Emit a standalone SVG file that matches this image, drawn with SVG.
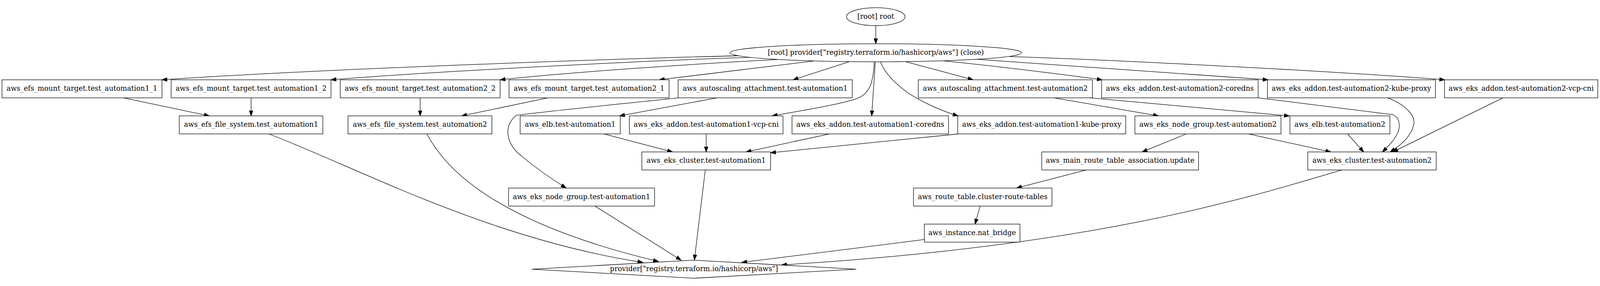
<svg xmlns="http://www.w3.org/2000/svg" width="4265" height="731" viewBox="0 0 4265 731">
<style>
svg:root { width: 100vw; height: 100vh; }
.n rect, .n ellipse, .n polygon { fill: #fff; stroke: #000; stroke-width: 1.33; }
.n text { font-family: "DejaVu Serif", "Liberation Serif", serif; font-size: 18.67px; text-anchor: middle; fill: #000; }
.e path { fill: none; stroke: #000; stroke-width: 1.33; marker-end: url(#arr); }
</style>
<defs>
<marker id="arr" markerUnits="userSpaceOnUse" markerWidth="16" markerHeight="12" refX="13.33" refY="4.67" orient="auto" overflow="visible">
<path d="M0,0 L13.33,4.67 L0,9.33 z" fill="#000" stroke="#000" stroke-width="1.33" stroke-linejoin="miter"/>
</marker>
</defs>
<rect x="0" y="0" width="4265" height="731" fill="#fff"/>
<g id="edges" class="e">
<path d="M2334.5,53.3 L2334.5,101.3"/>
<path d="M1966,133.3 C1700,140 900,166 431.7,197.3"/>
<path d="M2003,137.7 C1800,143 1200,172 882.4,197.3"/>
<path d="M2072,143.3 C1900,152 1500,178 1333.1,197.3"/>
<path d="M2168.6,147.3 L1757.5,197.3"/>
<path d="M2263.3,149.3 L2114,197.3"/>
<path d="M2330.4,150 C2328,205 2318,236 2282,248 C2230,265 2120,282 2058.4,293.3"/>
<path d="M2333.2,150 L2323.6,293.3"/>
<path d="M2347,150 C2362,185 2385,205 2420,232 C2460,258 2510,280 2553.8,293.3"/>
<path d="M2414.8,149.3 L2594,197.3"/>
<path d="M2513.6,146.7 C2650,160 2850,185 2938,197.3"/>
<path d="M2603,142.7 C2800,156 3200,185 3380,197.3"/>
<path d="M2692,135.5 C2900,142 3500,170 3851,197.3"/>
<path d="M329.2,245.3 L557.7,293.3"/>
<path d="M669.3,245.3 L669.3,293.3"/>
<path d="M1120,245.3 L1120,293.3"/>
<path d="M1460.5,245.3 L1230.6,293.3"/>
<path d="M1911.7,245.3 L1651.6,293.3"/>
<path d="M1807.6,245.3 C1700,257 1420,285 1376,292 C1340,320 1350,370 1390,400 C1420,425 1460,455 1509,485.3"/>
<path d="M2809.5,245.3 L3087.9,293.3"/>
<path d="M2905,245.3 L3437,293.5"/>
<path d="M3353.7,245.3 L3712,290 C3730,296 3735,320 3725,340 C3715,360 3700,375 3685,389.3"/>
<path d="M3698.8,245.3 C3750,265 3775,295 3768,318 C3762,345 3740,368 3705.7,389.3"/>
<path d="M4006.5,245.3 L3712.6,389.3"/>
<path d="M1610.3,341.3 L1792.8,389.3"/>
<path d="M1882.4,341.3 L1882.4,389.3"/>
<path d="M2211,341.3 L1988.8,389.3"/>
<path d="M2555.6,341.3 L2054.1,391.5"/>
<path d="M3162.2,341.3 L3044.3,389.3"/>
<path d="M3328.2,341.3 L3547.3,389.3"/>
<path d="M3592,341.3 L3635,389.3"/>
<path d="M2895.6,437.3 L2709.8,485.3"/>
<path d="M2612.7,533.3 L2599.1,581.3"/>
<path d="M716.4,341.3 C950,430 1300,620 1713.5,683.3"/>
<path d="M1138,341.3 C1190,440 1330,580 1755,680.7"/>
<path d="M1586,533.3 L1815.6,677.3"/>
<path d="M1880,437.3 L1851,676.7"/>
<path d="M2464,622.4 L1977,683.3"/>
<path d="M3576.5,437.3 C3300,520 2900,640 2083.4,690"/>
</g>
<g id="n_root" class="n"><ellipse cx="2334.5" cy="29.33" rx="78" ry="24"/><text x="2334.5" y="34.6">[root] root</text></g>
<g id="n_provider_close" class="n"><ellipse cx="2334.6" cy="125.33" rx="388.6" ry="24"/><text x="2334.6" y="130.6">[root] provider["registry.terraform.io/hashicorp/aws"] (close)</text></g>
<g id="n_mt1_1" class="n"><rect x="5.33" y="197.33" width="426.4" height="48"/><text x="218.5" y="226.6">aws_efs_mount_target.test_automation1_1</text></g>
<g id="n_mt1_2" class="n"><rect x="456.2" y="197.33" width="426.2" height="48"/><text x="669.3" y="226.6">aws_efs_mount_target.test_automation1_2</text></g>
<g id="n_mt2_2" class="n"><rect x="906.9" y="197.33" width="426.2" height="48"/><text x="1120" y="226.6">aws_efs_mount_target.test_automation2_2</text></g>
<g id="n_mt2_1" class="n"><rect x="1356.9" y="197.33" width="426.6" height="48"/><text x="1570.2" y="226.6">aws_efs_mount_target.test_automation2_1</text></g>
<g id="n_asg1" class="n"><rect x="1807.6" y="197.33" width="464.2" height="48"/><text x="2039.7" y="226.6">aws_autoscaling_attachment.test-automation1</text></g>
<g id="n_asg2" class="n"><rect x="2447.7" y="197.33" width="464.2" height="48"/><text x="2679.8" y="226.6">aws_autoscaling_attachment.test-automation2</text></g>
<g id="n_coredns2" class="n"><rect x="2936.4" y="197.33" width="417.3" height="48"/><text x="3145" y="226.6">aws_eks_addon.test-automation2-coredns</text></g>
<g id="n_kubeproxy2" class="n"><rect x="3378.5" y="197.33" width="447.7" height="48"/><text x="3602.3" y="226.6">aws_eks_addon.test-automation2-kube-proxy</text></g>
<g id="n_vcpcni2" class="n"><rect x="3850.6" y="197.33" width="408.6" height="48"/><text x="4054.9" y="226.6">aws_eks_addon.test-automation2-vcp-cni</text></g>
<g id="n_efs1" class="n"><rect x="477.9" y="293.33" width="382.7" height="48"/><text x="669.3" y="322.6">aws_efs_file_system.test_automation1</text></g>
<g id="n_efs2" class="n"><rect x="927.7" y="293.33" width="383.6" height="48"/><text x="1119.5" y="322.6">aws_efs_file_system.test_automation2</text></g>
<g id="n_elb1" class="n"><rect x="1386.5" y="293.33" width="266.9" height="48"/><text x="1520" y="322.6">aws_elb.test-automation1</text></g>
<g id="n_vcpcni1" class="n"><rect x="1677.7" y="293.33" width="409.5" height="48"/><text x="1882.4" y="322.6">aws_eks_addon.test-automation1-vcp-cni</text></g>
<g id="n_coredns1" class="n"><rect x="2111.2" y="293.33" width="417.2" height="48"/><text x="2319.8" y="322.6">aws_eks_addon.test-automation1-coredns</text></g>
<g id="n_kubeproxy1" class="n"><rect x="2552.9" y="293.33" width="447.9" height="48"/><text x="2776.9" y="322.6">aws_eks_addon.test-automation1-kube-proxy</text></g>
<g id="n_ng2" class="n"><rect x="3025.3" y="293.33" width="389.4" height="48"/><text x="3220" y="322.6">aws_eks_node_group.test-automation2</text></g>
<g id="n_elb2" class="n"><rect x="3438.5" y="293.33" width="266.5" height="48"/><text x="3571.8" y="322.6">aws_elb.test-automation2</text></g>
<g id="n_cluster1" class="n"><rect x="1710.9" y="389.33" width="343.2" height="48"/><text x="1882.5" y="418.6">aws_eks_cluster.test-automation1</text></g>
<g id="n_mrta" class="n"><rect x="2776.9" y="389.33" width="418" height="48"/><text x="2985.9" y="418.6">aws_main_route_table_association.update</text></g>
<g id="n_cluster2" class="n"><rect x="3486" y="389.33" width="342.3" height="48"/><text x="3657.2" y="418.6">aws_eks_cluster.test-automation2</text></g>
<g id="n_ng1" class="n"><rect x="1355.5" y="485.33" width="389.3" height="48"/><text x="1550.2" y="514.6">aws_eks_node_group.test-automation1</text></g>
<g id="n_rt" class="n"><rect x="2435" y="485.33" width="369.1" height="48"/><text x="2619.5" y="514.6">aws_route_table.cluster-route-tables</text></g>
<g id="n_nat" class="n"><rect x="2464" y="581.33" width="254.8" height="48"/><text x="2591.4" y="610.6">aws_instance.nat_bridge</text></g>
<g id="n_provider" class="n"><polygon points="1417.5,701.33 1850,677.33 2282.5,701.33 1850,725.33"/><text x="1850" y="706.6">provider["registry.terraform.io/hashicorp/aws"]</text></g>
</svg>
